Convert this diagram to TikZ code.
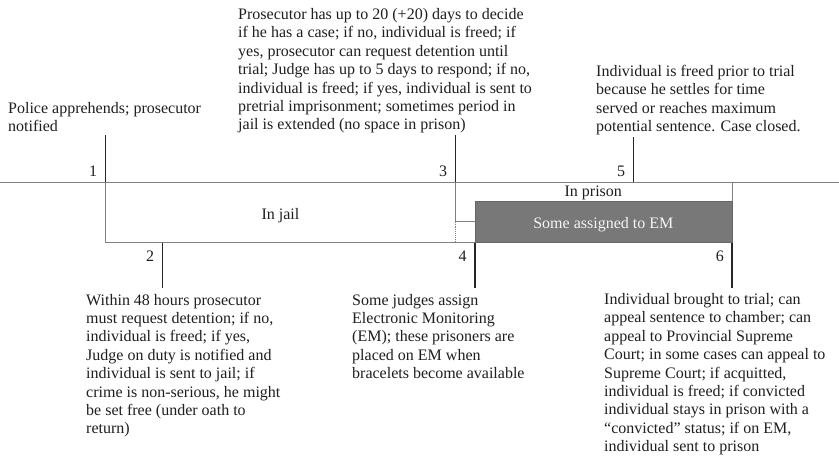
\documentclass[tikz,border=0pt]{standalone}
\usepackage{fontspec}
\setmainfont{Liberation Serif}
\usetikzlibrary{fit}
\newcommand\txtlines[1]{\begin{tabular}[t]{@{}l@{}}#1\end{tabular}}
\tikzset{
  txt/.style={inner sep=0pt, anchor=base west, text=black!88, font=\fontsize{16}{18.4}\selectfont},
  num/.style={inner sep=0pt, anchor=base east, text=black!88, font=\fontsize{16}{18.4}\selectfont},
  lbl/.style={inner sep=0pt, anchor=base, text=black!88, font=\fontsize{16}{18.4}\selectfont},
  evline/.style={draw=black!85, line width=1.4pt},
  boxline/.style={draw=black!50, line width=0.9pt},
}
\begin{document}
\begin{tikzpicture}[x=1pt,y=-1pt]
\useasboundingbox (0,0) rectangle (839,459);
\fill[white] (0,0) rectangle (839,459);

% coordinates
\coordinate (L) at (0,182);
\coordinate (R) at (839,182);
\coordinate (t1) at (105.5,135);  \coordinate (m1) at (105.5,182);
\coordinate (b1) at (105.5,242.5);
\coordinate (t3) at (455.5,135);  \coordinate (m3) at (455.5,182);
\coordinate (k3) at (455.5,221.7); \coordinate (d3) at (455.5,242.5);
\coordinate (k4) at (475,221.7);
\coordinate (t5) at (633.3,137);  \coordinate (m5) at (633.3,182);
\coordinate (m6) at (732,182);    \coordinate (e6) at (732,201);
\coordinate (m2) at (162.3,242.5); \coordinate (b2) at (162.3,288);
\coordinate (m4) at (475,242.5);   \coordinate (b4) at (475,288);
\coordinate (m6b) at (732,242.5);  \coordinate (b6) at (732,288);
\coordinate (emA) at (475,201);   \coordinate (emB) at (732,242.5);

% main time line and boxes
\draw[boxline] (L) -- (R);
\draw[boxline] (m1) -- (b1) -- (m4);
\draw[boxline] (m3) -- (k3) -- (k4);
\draw[boxline, densely dotted] (k3) -- (d3);
\draw[boxline] (m6) -- (e6);
\node[draw=black!60, line width=0.9pt, fill=black!53, inner sep=0pt, fit={(emA) (emB)}] (em) {};
\node[lbl, text=black!4] (emt) at (603.3,228.3) {Some assigned to EM};
\node[lbl] (jail) at (280.5,219) {In jail};
\node[lbl] (prison) at (593.3,196.7) {In prison};

% event lines
\draw[evline] (t1) -- (m1);
\draw[evline] (t3) -- (m3);
\draw[evline] (t5) -- (m5);
\draw[evline] (m2) -- (b2);
\draw[evline] (m4) -- (b4);
\draw[evline] (m6b) -- (b6);

% numbers
\node[num] (n1) at (97.2,176) {1};
\node[num] (n3) at (447.2,176) {3};
\node[num] (n5) at (625.2,176) {5};
\node[num] (n2) at (154.2,261.5) {2};
\node[num] (n4) at (466.7,261.5) {4};
\node[num] (n6) at (724,261.5) {6};

% texts
\node[txt] (x1) at (8,113.5) {\txtlines{Police apprehends; prosecutor\\ notified}};
\node[txt] (x3) at (238,19.5) {\txtlines{Prosecutor has up to 20 (+20) days to decide\\
if he has a case; if no, individual is freed; if\\
yes, prosecutor can request detention until\\
trial; Judge has up to 5 days to respond; if no,\\
individual is freed; if yes, individual is sent to\\
pretrial imprisonment; sometimes period in\\
jail is extended (no space in prison)}};
\node[txt] (x5) at (596,76.5) {\txtlines{Individual is freed prior to trial\\
because he settles for time\\
served or reaches maximum\\
potential sentence. Case closed.}};
\node[txt] (x2) at (86,305) {\txtlines{Within 48 hours prosecutor\\
must request detention; if no,\\
individual is freed; if yes,\\
Judge on duty is notified and\\
individual is sent to jail; if\\
crime is non-serious, he might\\
be set free (under oath to\\
return)}};
\node[txt] (x4) at (352,305) {\txtlines{Some judges assign\\
Electronic Monitoring\\
(EM); these prisoners are\\
placed on EM when\\
bracelets become available}};
\node[txt] (x6) at (604,304.5) {\txtlines{Individual brought to trial; can\\
appeal sentence to chamber; can\\
appeal to Provincial Supreme\\
Court; in some cases can appeal to\\
Supreme Court; if acquitted,\\
individual is freed; if convicted\\
individual stays in prison with a\\
“convicted” status; if on EM,\\
individual sent to prison}};
\end{tikzpicture}
\end{document}
